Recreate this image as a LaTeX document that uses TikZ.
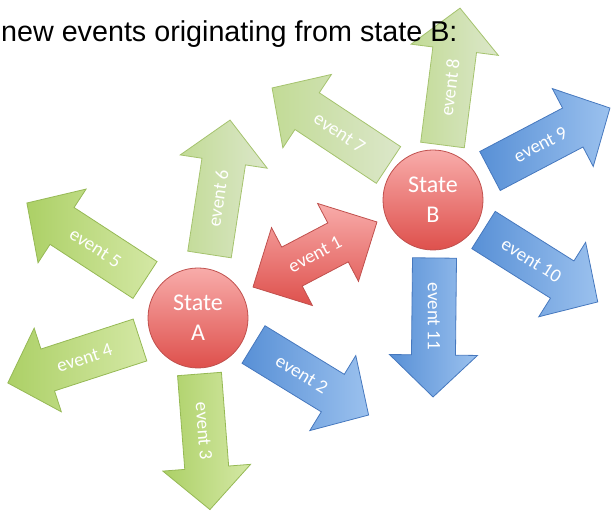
\documentclass[tikz,border=0pt]{standalone}
\usepackage{fontspec}
\setmainfont{Liberation Sans}
\newfontfamily\calib{Carlito}
\usetikzlibrary{calc}
\definecolor{gdark}{RGB}{172,208,102}
\definecolor{glight}{RGB}{212,232,165}
\definecolor{gborder}{RGB}{150,185,85}
\definecolor{pdark}{RGB}{194,219,150}
\definecolor{plight}{RGB}{220,231,202}
\definecolor{pborder}{RGB}{165,195,110}
\definecolor{bdark}{RGB}{88,144,214}
\definecolor{blight}{RGB}{155,193,238}
\definecolor{bborder}{RGB}{70,120,190}
\definecolor{rlight}{RGB}{248,172,170}
\definecolor{rdark}{RGB}{222,80,76}
\definecolor{rborder}{RGB}{192,80,77}
\tikzset{
  greenarrow/.style={left color=gdark,right color=glight,draw=gborder,line width=0.8pt},
  palearrow/.style={left color=pdark,right color=plight,draw=pborder,line width=0.8pt},
  bluearrow/.style={left color=bdark,right color=blight,draw=bborder,line width=0.8pt},
  redarrow/.style={top color=rlight,bottom color=rdark,draw=rborder,line width=0.8pt},
  evtext/.style={text=white,font=\calib\fontsize{19}{22}\selectfont,inner sep=0pt},
  state/.style={circle,minimum size=100pt,inner sep=0pt,draw=rborder,line width=0.8pt,
    top color=rlight,bottom color=rdark,text=white,align=center,
    font=\calib\fontsize{24}{30}\selectfont},
  titletext/.style={font=\fontsize{28.7}{32}\selectfont,inner sep=0pt,anchor=base west}
}
% #1 name, #2 tail point, #3 angle, #4 length, #5 style, #6 text angle, #7 label
\newcommand{\evarrow}[7]{%
  \coordinate (#1-t) at #2;
  \path[#5] ($(#1-t)+({#3+90}:22)$)
    -- ($(#1-t)+({#3}:{#4-42})+({#3+90}:22)$)
    -- ($(#1-t)+({#3}:{#4-42})+({#3+90}:44)$)
    -- ($(#1-t)+({#3}:{#4})$)
    -- ($(#1-t)+({#3}:{#4-42})+({#3-90}:44)$)
    -- ($(#1-t)+({#3}:{#4-42})+({#3-90}:22)$)
    -- ($(#1-t)+({#3-90}:22)$) -- cycle;
  \node[evtext,rotate=#6] (#1) at ($(#1-t)+({#3}:{0.42*#4})$) {#7};
}
\begin{document}
\begin{tikzpicture}[x=1pt,y=1pt]
\useasboundingbox (0,0) rectangle (611,511);
% arrows around state A
\evarrow{e3}{(199.5,137)}{-85.6}{136}{greenarrow}{-85.6}{event 3}
\evarrow{e4}{(140,171)}{198}{139}{greenarrow}{18}{event 4}
\evarrow{e5}{(145,231)}{146.9}{141}{greenarrow}{-33.1}{event 5}
\evarrow{e6}{(209.5,256.5)}{81.3}{136}{palearrow}{81.3}{event 6}
\evarrow{e2}{(253.5,166.5)}{-31.5}{135}{bluearrow}{-31.5}{event 2}
% arrows around state B
\evarrow{e7}{(388.5,346)}{146.5}{139.6}{palearrow}{-33.5}{event 7}
\evarrow{e8}{(442.5,366)}{82.7}{138}{palearrow}{82.7}{event 8}
\evarrow{e9}{(490,340)}{27.7}{135.5}{bluearrow}{27.7}{event 9}
\evarrow{e10}{(483.5,281)}{-32.2}{135}{bluearrow}{-32.2}{event 10}
\evarrow{e11}{(434.5,253)}{-90.6}{139}{bluearrow}{-90}{event 11}
% double arrow event 1
\coordinate (c1) at (315,256.5);
\path[redarrow] ($(c1)+(27.7:70)$)
  -- ($(c1)+(27.7:26)+(117.7:44)$) -- ($(c1)+(27.7:26)+(117.7:22)$)
  -- ($(c1)+(207.7:26)+(117.7:22)$) -- ($(c1)+(207.7:26)+(117.7:44)$)
  -- ($(c1)+(207.7:70)$)
  -- ($(c1)+(207.7:26)+(-62.3:44)$) -- ($(c1)+(207.7:26)+(-62.3:22)$)
  -- ($(c1)+(27.7:26)+(-62.3:22)$) -- ($(c1)+(27.7:26)+(-62.3:44)$) -- cycle;
\node[evtext,rotate=27.7] (e1) at (c1) {event 1};
% states
\node[state] (A) at (198,193) {State\\A};
\node[state] (B) at (433,311) {State\\B};
% title
\node[titletext] (title) at (1,469) {new events originating from state B:};
\end{tikzpicture}
\end{document}
